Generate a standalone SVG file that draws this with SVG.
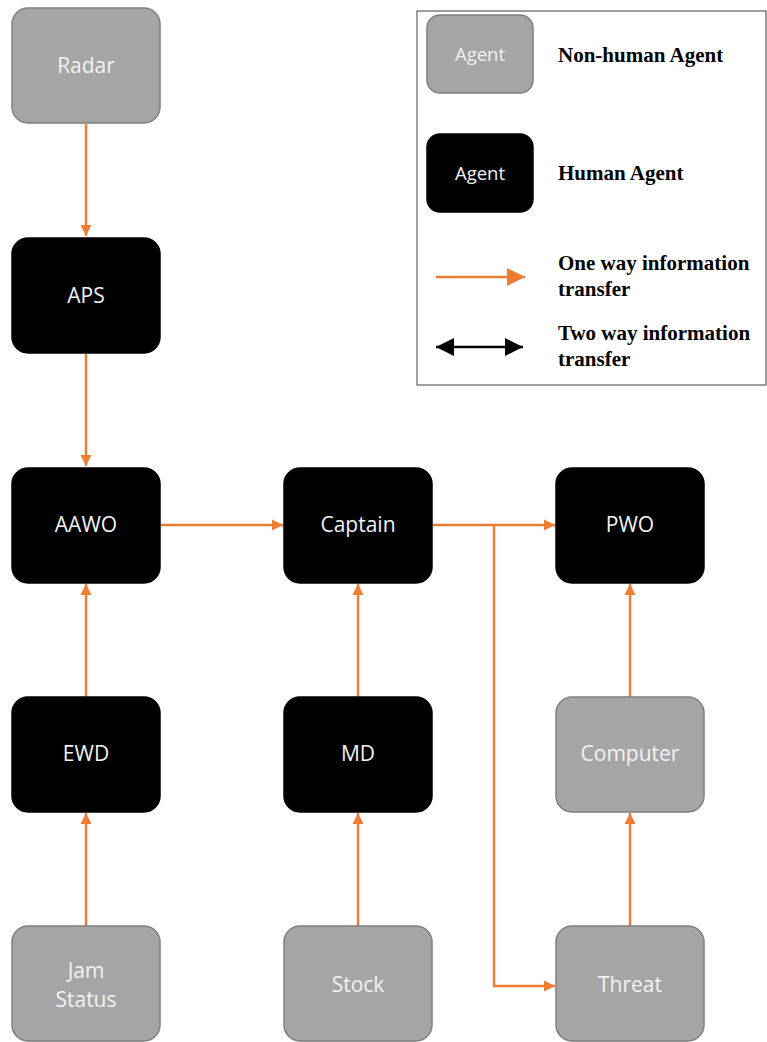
<svg xmlns="http://www.w3.org/2000/svg" width="767" height="1042" viewBox="0 0 767 1042">
  <defs>
    <style>
      .machine { fill: #a5a5a5; stroke: #7f7f7f; stroke-width: 1.5; }
      .human { fill: #000000; stroke: #000000; stroke-width: 1.5; }
      .label { font-family: "Open Sans", "Noto Sans", sans-serif; font-size: 21px; fill: #f2f2f2; text-anchor: middle; }
      .legend-label { font-family: "Open Sans", "Noto Sans", sans-serif; font-size: 18.5px; fill: #f2f2f2; text-anchor: middle; }
      .legend-text { font-family: "Liberation Serif", "Times New Roman", serif; font-size: 21px; font-weight: bold; fill: #000; }
      .flow { fill: none; stroke: #ed7d31; stroke-width: 2.4; }
      .both { fill: none; stroke: #000; stroke-width: 2.4; }
    </style>
    <marker id="orangeHead" viewBox="0 0 10 10" refX="10" refY="5" markerWidth="4.6" markerHeight="4.6" markerUnits="strokeWidth" orient="auto">
      <path d="M0,0 L10,5 L0,10 z" fill="#ed7d31"/>
    </marker>
    <marker id="bigOrangeHead" viewBox="0 0 10 10" refX="10" refY="5" markerWidth="7.5" markerHeight="7.5" markerUnits="strokeWidth" orient="auto">
      <path d="M0,0 L10,5 L0,10 z" fill="#ed7d31"/>
    </marker>
    <marker id="blackHead" viewBox="0 0 10 10" refX="10" refY="5" markerWidth="7.5" markerHeight="7.5" markerUnits="strokeWidth" orient="auto-start-reverse">
      <path d="M0,0 L10,5 L0,10 z" fill="#000"/>
    </marker>
  </defs>

  <rect width="767" height="1042" fill="#ffffff"/>

  <!-- information flows -->
  <g id="connectors">
    <line class="flow" x1="86" y1="124" x2="86" y2="236" marker-end="url(#orangeHead)"/>
    <line class="flow" x1="86" y1="354" x2="86" y2="466" marker-end="url(#orangeHead)"/>
    <line class="flow" x1="86" y1="697" x2="86" y2="584" marker-end="url(#orangeHead)"/>
    <line class="flow" x1="86" y1="926" x2="86" y2="813" marker-end="url(#orangeHead)"/>
    <line class="flow" x1="161" y1="525" x2="283" y2="525" marker-end="url(#orangeHead)"/>
    <line class="flow" x1="358" y1="697" x2="358" y2="584" marker-end="url(#orangeHead)"/>
    <line class="flow" x1="358" y1="926" x2="358" y2="813" marker-end="url(#orangeHead)"/>
    <line class="flow" x1="433" y1="525" x2="555" y2="525" marker-end="url(#orangeHead)"/>
    <polyline class="flow" points="494,525 494,986 555,986" marker-end="url(#orangeHead)"/>
    <line class="flow" x1="630" y1="926" x2="630" y2="813" marker-end="url(#orangeHead)"/>
    <line class="flow" x1="630" y1="697" x2="630" y2="584" marker-end="url(#orangeHead)"/>
  </g>

  <g id="radar">
    <rect class="machine" x="12" y="8" width="148" height="115" rx="16"/>
    <text class="label" x="86" y="73">Radar</text>
  </g>
  <g id="aps">
    <rect class="human" x="12" y="238" width="148" height="115" rx="16"/>
    <text class="label" x="86" y="303">APS</text>
  </g>
  <g id="aawo">
    <rect class="human" x="12" y="468" width="148" height="115" rx="16"/>
    <text class="label" x="86" y="532">AAWO</text>
  </g>
  <g id="captain">
    <rect class="human" x="284" y="468" width="148" height="115" rx="16"/>
    <text class="label" x="358" y="532">Captain</text>
  </g>
  <g id="pwo">
    <rect class="human" x="556" y="468" width="148" height="115" rx="16"/>
    <text class="label" x="630" y="532">PWO</text>
  </g>
  <g id="ewd">
    <rect class="human" x="12" y="697" width="148" height="115" rx="16"/>
    <text class="label" x="86" y="761">EWD</text>
  </g>
  <g id="md">
    <rect class="human" x="284" y="697" width="148" height="115" rx="16"/>
    <text class="label" x="358" y="761">MD</text>
  </g>
  <g id="computer">
    <rect class="machine" x="556" y="697" width="148" height="115" rx="16"/>
    <text class="label" x="630" y="761">Computer</text>
  </g>
  <g id="jam-status">
    <rect class="machine" x="12" y="926" width="148" height="115" rx="16"/>
    <text class="label" x="86" y="978">Jam</text>
    <text class="label" x="86" y="1007">Status</text>
  </g>
  <g id="stock">
    <rect class="machine" x="284" y="926" width="148" height="115" rx="16"/>
    <text class="label" x="358" y="992">Stock</text>
  </g>
  <g id="threat">
    <rect class="machine" x="556" y="926" width="148" height="115" rx="16"/>
    <text class="label" x="630" y="992">Threat</text>
  </g>

  <!-- key -->
  <g id="legend">
    <rect x="417" y="11" width="349" height="374" fill="#ffffff" stroke="#404040" stroke-width="1"/>
    <rect class="machine" x="427" y="15" width="106" height="78" rx="13"/>
    <text class="legend-label" x="480" y="61">Agent</text>
    <rect class="human" x="427" y="134" width="106" height="78" rx="13"/>
    <text class="legend-label" x="480" y="180">Agent</text>
    <text class="legend-text" x="558" y="62">Non-human Agent</text>
    <text class="legend-text" x="558" y="180">Human Agent</text>
    <text class="legend-text" x="558" y="270">One way information</text>
    <text class="legend-text" x="558" y="296">transfer</text>
    <text class="legend-text" x="558" y="340">Two way information</text>
    <text class="legend-text" x="558" y="366">transfer</text>
    <line class="flow" x1="436" y1="277" x2="525" y2="277" marker-end="url(#bigOrangeHead)"/>
    <line class="both" x1="436" y1="347" x2="523" y2="347" marker-start="url(#blackHead)" marker-end="url(#blackHead)"/>
  </g>
</svg>
